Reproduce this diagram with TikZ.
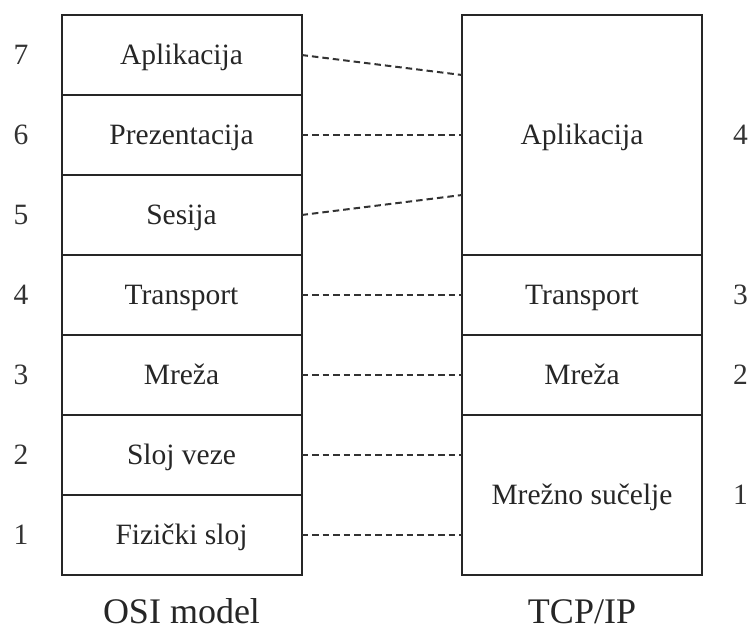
\documentclass[tikz,border=0pt]{standalone}
\usepackage{fontspec}
\setmainfont{Liberation Serif}
\usetikzlibrary{positioning}

\begin{document}
\begin{tikzpicture}[x=1pt,y=1pt,node distance=0pt,
    layer/.style={rectangle,draw=black!85,line width=2pt,inner sep=0pt,outer sep=0pt,
      minimum width=240pt,minimum height=80pt,text height=19.5pt,text depth=0pt,
      text=black!85,font=\fontsize{29.5}{35}\selectfont},
    num/.style={inner sep=0pt,text=black!80,font=\fontsize{29.5}{35}\selectfont},
    caption/.style={inner sep=0pt,text=black!85,font=\fontsize{36}{43}\selectfont},
    link/.style={draw=black!80,line width=2pt,dash pattern=on 6.5pt off 4pt}]
    \useasboundingbox (0,0) rectangle (751,-633);
    % OSI model
    \node[layer] (osi7) at (181.5,-55) {Aplikacija};
    \node[layer] (osi6) [below=of osi7] {Prezentacija};
    \node[layer] (osi5) [below=of osi6] {Sesija};
    \node[layer] (osi4) [below=of osi5] {Transport};
    \node[layer] (osi3) [below=of osi4] {Mreža};
    \node[layer] (osi2) [below=of osi3] {Sloj veze};
    \node[layer] (osi1) [below=of osi2] {Fizički sloj};
    % TCP/IP
    \node[layer,minimum height=240pt] (tcp4) at (582,-135) {Aplikacija};
    \node[layer] (tcp3) [below=of tcp4] {Transport};
    \node[layer] (tcp2) [below=of tcp3] {Mreža};
    \node[layer,minimum height=160pt] (tcp1) [below=of tcp2] {Mrežno sučelje};
    % layer numbers
    \node[num] (n7) [left=33pt of osi7] {7};
    \node[num] (n6) [left=33pt of osi6] {6};
    \node[num] (n5) [left=33pt of osi5] {5};
    \node[num] (n4) [left=33pt of osi4] {4};
    \node[num] (n3) [left=33pt of osi3] {3};
    \node[num] (n2) [left=33pt of osi2] {2};
    \node[num] (n1) [left=33pt of osi1] {1};
    \node[num] (m4) [right=31pt of tcp4] {4};
    \node[num] (m3) [right=31pt of tcp3] {3};
    \node[num] (m2) [right=31pt of tcp2] {2};
    \node[num] (m1) [right=31pt of tcp1] {1};
    % captions
    \node[caption] (osiname) [below=48.5pt of osi1,anchor=base] {OSI model};
    \node[caption] (tcpname) [below=48.5pt of tcp1,anchor=base] {TCP/IP};
    \path[link]
    (osi7.east) edge ([yshift=60pt]tcp4.west)
    (osi6.east) edge (tcp4.west)
    (osi5.east) edge ([yshift=-60pt]tcp4.west)
    (osi4.east) edge (tcp3.west)
    (osi3.east) edge (tcp2.west)
    (osi2.east) edge ([yshift=40pt]tcp1.west)
    (osi1.east) edge ([yshift=-40pt]tcp1.west);
\end{tikzpicture}
\end{document}
